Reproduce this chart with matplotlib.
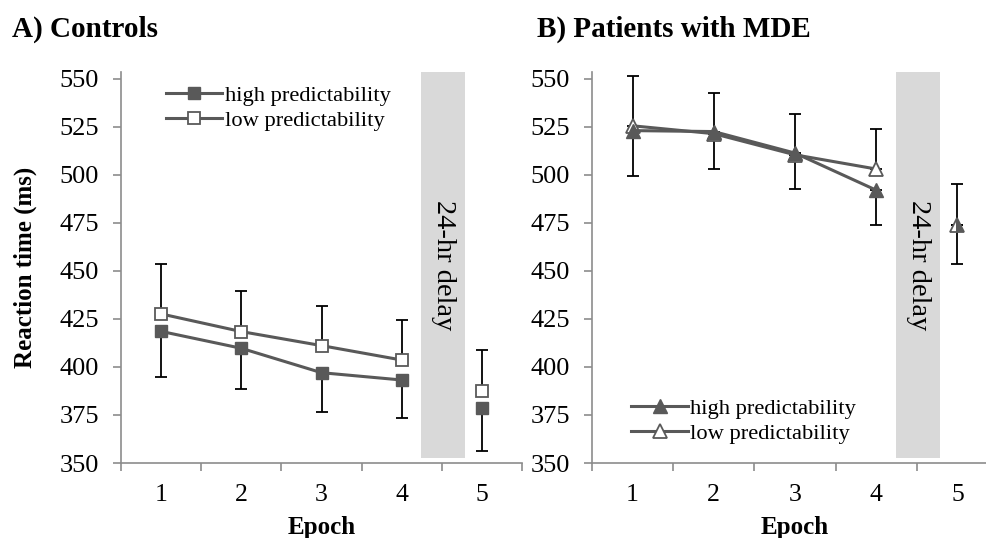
import matplotlib
matplotlib.use("Agg")
import matplotlib.pyplot as plt

plt.rcParams['font.family'] = ['Liberation Serif', 'DejaVu Serif']

# Data (mean RT in ms per epoch, one-sided error bars)
epochs = [1, 2, 3, 4, 5]
yticks = [350, 375, 400, 425, 450, 475, 500, 525, 550]

ctrl_high = [418.5, 409.7, 397.0, 393.2, 378.5]
ctrl_low = [427.6, 418.4, 411.1, 403.6, 387.5]
ctrl_high_err = [24.0, 21.2, 20.6, 19.9, 22.1]   # drawn downward
ctrl_low_err = [26.0, 21.3, 20.8, 20.9, 21.4]    # drawn upward

mde_high = [523.0, 522.5, 511.3, 492.0, 474.0]
mde_low = [525.5, 521.4, 510.4, 503.0, 474.0]
mde_high_err = [23.4, 19.4, 18.8, 18.2, 20.4]
mde_low_err = [25.7, 21.2, 21.2, 21.0, 21.2]

line_col = '#595959'
axis_col = '#8c8c8c'


def draw_panel(ax, high, low, high_err, low_err, marker, ms, legend_loc, legend_anchor):
    n = len(epochs)
    # error bars: low series up, high series down
    ax.errorbar(epochs, low, yerr=[[0] * n, low_err], fmt='none',
                ecolor='black', elinewidth=1.3, capsize=4.3, capthick=1.3, zorder=2)
    ax.errorbar(epochs, high, yerr=[high_err, [0] * n], fmt='none',
                ecolor='black', elinewidth=1.3, capsize=4.3, capthick=1.3, zorder=2)

    # lines only connect epochs 1-4 (delay before epoch 5)
    ax.plot(epochs[:4], low[:4], color=line_col, lw=2.2, marker=marker, ms=ms,
            mfc='white', mec=line_col, mew=1.3, zorder=3, label='low predictability')
    ax.plot(epochs[:4], high[:4], color=line_col, lw=2.2, marker=marker, ms=ms,
            mfc=line_col, mec=line_col, zorder=3, label='high predictability')

    # epoch 5 after the delay; when both means coincide the markers overlap (half/half)
    if abs(high[4] - low[4]) < 3:
        ax.plot(epochs[4:], low[4:], ls='none', marker=marker, ms=ms,
                mfc='white', mec=line_col, mew=1.3, zorder=3, fillstyle='left',
                markerfacecoloralt=line_col)
    else:
        ax.plot(epochs[4:], low[4:], ls='none', marker=marker, ms=ms,
                mfc='white', mec=line_col, mew=1.3, zorder=3)
        ax.plot(epochs[4:], high[4:], ls='none', marker=marker, ms=ms,
                mfc=line_col, mec=line_col, zorder=3)

    # 24-hr delay band
    ax.axvspan(4.24, 4.79, ymin=0.012, ymax=1.0, color='#d9d9d9', lw=0, zorder=1)
    ax.text(4.515, 453, '24-hr delay', rotation=-90, ha='center', va='center',
            fontsize=20.5, color='black', zorder=2)

    ax.set_xlim(0.5, 5.5)
    ax.set_ylim(350, 553.5)
    ax.set_yticks(yticks)
    ax.set_xticks(epochs)
    ax.set_xticks([0.5, 1.5, 2.5, 3.5, 4.5, 5.5], minor=True)
    ax.tick_params(axis='x', which='major', length=0, pad=15, labelsize=18.5)
    ax.tick_params(axis='x', which='minor', length=6, color=axis_col, width=1.2)
    ax.tick_params(axis='y', length=6, color=axis_col, width=1.2, pad=10, labelsize=19)
    for s in ['top', 'right']:
        ax.spines[s].set_visible(False)
    for s in ['left', 'bottom']:
        ax.spines[s].set_color(axis_col)
        ax.spines[s].set_linewidth(1.2)
    ax.spines['bottom'].set_bounds(0.5, 5.5)
    ax.spines['left'].set_bounds(350, 553.5)

    ax.set_xlabel('Epoch', fontsize=18, fontweight='bold', labelpad=7)

    handles, labels = ax.get_legend_handles_labels()
    ax.legend(handles[::-1], labels[::-1], loc=legend_loc, bbox_to_anchor=legend_anchor,
              frameon=False, fontsize=16.2, handlelength=2.5, handletextpad=0.1,
              labelspacing=0.2, borderaxespad=0)


fig = plt.figure(figsize=(9.87, 5.38), dpi=100)
ax1 = fig.add_axes([121 / 987, 1 - 463 / 538, 401 / 987, 391 / 538])
ax2 = fig.add_axes([592 / 987, 1 - 463 / 538, 406 / 987, 391 / 538])

draw_panel(ax1, ctrl_high, ctrl_low, ctrl_high_err, ctrl_low_err, 's', 8.5,
           'upper left', (0.09, 0.99))
draw_panel(ax2, mde_high, mde_low, mde_high_err, mde_low_err, '^', 10.5,
           'lower left', (0.075, 0.025))

ax1.set_ylabel('Reaction time (ms)', fontsize=18, fontweight='bold', labelpad=16)

fig.text(12 / 987, 1 - 29 / 538, 'A) Controls', fontsize=21, fontweight='bold', va='center')
fig.text(537 / 987, 1 - 29 / 538, 'B) Patients with MDE', fontsize=21, fontweight='bold', va='center')

fig.savefig('out.png', dpi=100)
